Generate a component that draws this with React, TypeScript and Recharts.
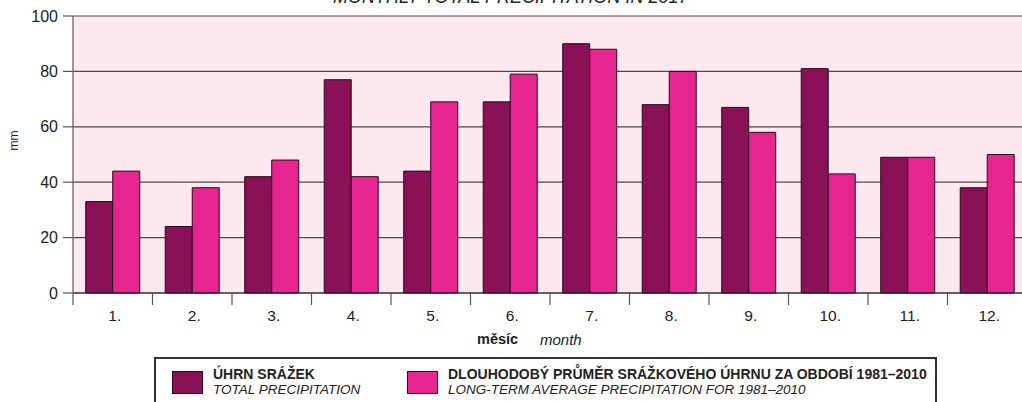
import { Bar, BarChart, CartesianGrid, XAxis, YAxis } from "recharts";

const months = ["1.", "2.", "3.", "4.", "5.", "6.", "7.", "8.", "9.", "10.", "11.", "12."];
const totalPrecip = [33, 24, 42, 77, 44, 69, 90, 68, 67, 81, 49, 38];
const longTermAvg = [44, 38, 48, 42, 69, 79, 88, 80, 58, 43, 49, 50];
const yTicks = [0, 20, 40, 60, 80, 100];

const DARK = "#8a1057";
const PINK = "#e62590";
const FONT = "'Liberation Sans', Arial, sans-serif";

const data = months.map((m, i) => ({ month: m, total: totalPrecip[i], avg: longTermAvg[i] }));

const CHART_W = 1040;
const PLOT_LEFT = 73;
const PLOT_RIGHT = 1027;
const BAND = (PLOT_RIGHT - PLOT_LEFT) / months.length;

function MonthTick(props: any) {
  const { x, y, payload } = props;
  const bx = x - BAND / 2;
  return (
    <g>
      <line x1={bx} y1={y - 8} x2={bx} y2={y + 4} stroke="#555" strokeWidth={1.2} />
      <text x={x + 2} y={y + 20} textAnchor="middle" fontSize={15.5} fill="#222" fontFamily={FONT}>
        {payload.value}
      </text>
    </g>
  );
}

export default function App() {
  return (
    <div style={{ position: "absolute", left: 0, top: 0, width: 1022, height: 402, overflow: "hidden", background: "#fff", fontFamily: FONT }}>
      <div style={{ position: "absolute", left: 333, top: -13, fontSize: 18, fontStyle: "italic", color: "#222", whiteSpace: "nowrap" }}>
        MONTHLY TOTAL PRECIPITATION IN 2017
      </div>
      <BarChart
        width={CHART_W}
        height={402}
        data={data}
        margin={{ top: 16, right: CHART_W - PLOT_RIGHT, bottom: 59, left: 0 }}
        barCategoryGap="16%"
        barGap={0}
      >
        <CartesianGrid vertical={false} fill="#fce8ee" stroke="#4a4a4a" strokeWidth={1.2} />
        <XAxis
          dataKey="month"
          height={50}
          axisLine={{ stroke: "#222", strokeWidth: 1.2 }}
          tickLine={false}
          tick={<MonthTick />}
          interval={0}
        />
        <YAxis
          domain={[0, 100]}
          ticks={yTicks}
          width={PLOT_LEFT}
          tickSize={10}
          axisLine={{ stroke: "#777", strokeWidth: 1.5 }}
          tickLine={{ stroke: "#555", strokeWidth: 1.2 }}
          tick={{ fontSize: 16, fill: "#222", fontFamily: FONT, dx: -3 }}
          label={{ value: "mm", angle: -90, position: "insideLeft", offset: 14, dy: -4, fontSize: 12, fill: "#222", fontFamily: FONT }}
        />
        <Bar dataKey="total" fill={DARK} stroke="#2a0a1c" strokeWidth={1} isAnimationActive={false} />
        <Bar dataKey="avg" fill={PINK} stroke="#2a0a1c" strokeWidth={1} isAnimationActive={false} />
      </BarChart>
      <div style={{ position: "absolute", left: 477, top: 331, fontSize: 14.5, fontWeight: "bold", color: "#222" }}>měsíc</div>
      <div style={{ position: "absolute", left: 540, top: 331, fontSize: 15, fontStyle: "italic", color: "#222" }}>month</div>
      <div
        style={{
          position: "absolute",
          left: 154,
          top: 357,
          width: 783,
          height: 60,
          border: "2px solid #333",
          boxSizing: "border-box",
          background: "#fff",
        }}
      >
        <div style={{ position: "absolute", left: 16, top: 12, width: 29, height: 21, background: DARK, border: "1px solid #2a0a1c" }} />
        <div style={{ position: "absolute", left: 57, top: 8, lineHeight: "15px", color: "#222", whiteSpace: "nowrap" }}>
          <div style={{ fontWeight: "bold", fontSize: 14 }}>ÚHRN SRÁŽEK</div>
          <div style={{ fontStyle: "italic", fontSize: 13.5 }}>TOTAL PRECIPITATION</div>
        </div>
        <div style={{ position: "absolute", left: 251, top: 12, width: 29, height: 21, background: PINK, border: "1px solid #2a0a1c" }} />
        <div style={{ position: "absolute", left: 292, top: 8, lineHeight: "15px", color: "#222", whiteSpace: "nowrap" }}>
          <div style={{ fontWeight: "bold", fontSize: 14 }}>DLOUHODOBÝ PRŮMĚR SRÁŽKOVÉHO ÚHRNU ZA OBDOBÍ 1981–2010</div>
          <div style={{ fontStyle: "italic", fontSize: 13.5 }}>LONG-TERM AVERAGE PRECIPITATION FOR 1981–2010</div>
        </div>
      </div>
    </div>
  );
}
